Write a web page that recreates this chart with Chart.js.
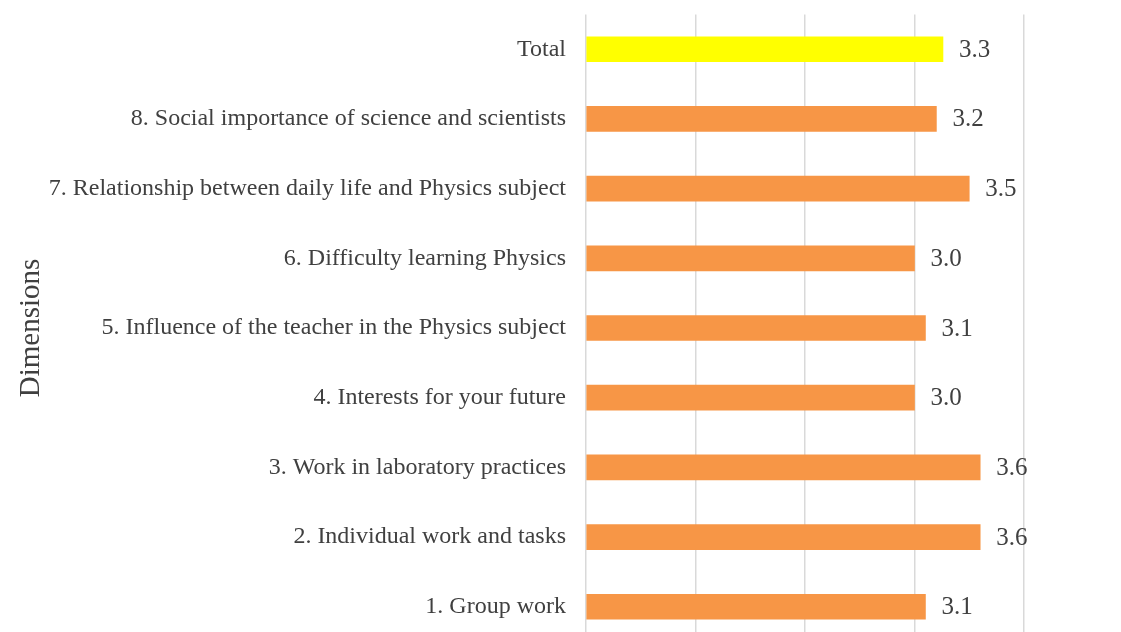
<!DOCTYPE html>
<html>
<head>
<meta charset="utf-8">
<script src="https://cdn.jsdelivr.net/npm/chart.js@4"></script>
<style>
  html, body { margin: 0; padding: 0; background: #fff; overflow: hidden; }
  #wrap { width: 1121px; height: 696px; position: relative; margin-top: -20px; }
</style>
</head>
<body>
<div id="wrap"><canvas id="dimChart"></canvas></div>
<script>
// categories, top to bottom
const dimensions = [
    'Total',
    '8. Social importance of science and scientists',
    '7. Relationship between daily life and Physics subject',
    '6. Difficulty learning Physics',
    '5. Influence of the teacher in the Physics subject',
    '4. Interests for your future',
    '3. Work in laboratory practices',
    '2. Individual work and tasks',
    '1. Group work'
];
const scores = [3.26, 3.2, 3.5, 3.0, 3.1, 3.0, 3.6, 3.6, 3.1];
const barColors = ['#FFFF00', '#F79646', '#F79646', '#F79646', '#F79646', '#F79646', '#F79646', '#F79646', '#F79646'];
const xTicks = [0, 1, 2, 3, 4];

const textColor = '#404040';

// value labels to the right of each bar
const valueLabels = {
    id: 'valueLabels',
    afterDatasetsDraw(chart) {
        const ctx = chart.ctx;
        const meta = chart.getDatasetMeta(0);
        ctx.save();
        ctx.font = '25px "Liberation Serif", "Times New Roman", serif';
        ctx.fillStyle = textColor;
        ctx.textAlign = 'left';
        ctx.textBaseline = 'middle';
        meta.data.forEach(function(bar, i) {
            ctx.fillText(scores[i].toFixed(1), bar.x + 16, bar.y + 1);
        });
        ctx.restore();
    }
};

document.addEventListener('DOMContentLoaded', function() {
    const ctx = document.getElementById('dimChart').getContext('2d');
    new Chart(ctx, {
        type: 'bar',
        data: {
            labels: dimensions,
            datasets: [{
                data: scores,
                backgroundColor: barColors,
                barThickness: 25
            }]
        },
        options: {
            indexAxis: 'y',
            responsive: true,
            maintainAspectRatio: false,
            animation: false,
            layout: {
                padding: { top: 14, right: 97, bottom: 0, left: 0 }
            },
            plugins: {
                legend: { display: false },
                tooltip: { enabled: false }
            },
            scales: {
                x: {
                    min: xTicks[0],
                    max: xTicks[xTicks.length - 1],
                    afterBuildTicks: function(scale) {
                        scale.ticks = xTicks.map(v => ({ value: v }));
                    },
                    ticks: { display: false },
                    border: { display: false },
                    grid: { color: '#d9d9d9', lineWidth: 1.5, drawTicks: false }
                },
                y: {
                    border: { display: false },
                    grid: { display: false, drawTicks: false },
                    afterFit: function(scale) {
                        scale.width = 586;
                    },
                    ticks: {
                        color: textColor,
                        padding: 20,
                        font: { family: '"Liberation Serif", "Times New Roman", serif', size: 24 }
                    },
                    title: {
                        display: true,
                        text: 'Dimensions',
                        color: textColor,
                        padding: { top: 14, bottom: 0 },
                        font: { family: '"Liberation Serif", "Times New Roman", serif', size: 29 }
                    }
                }
            }
        },
        plugins: [valueLabels]
    });
});
</script>
</body>
</html>
